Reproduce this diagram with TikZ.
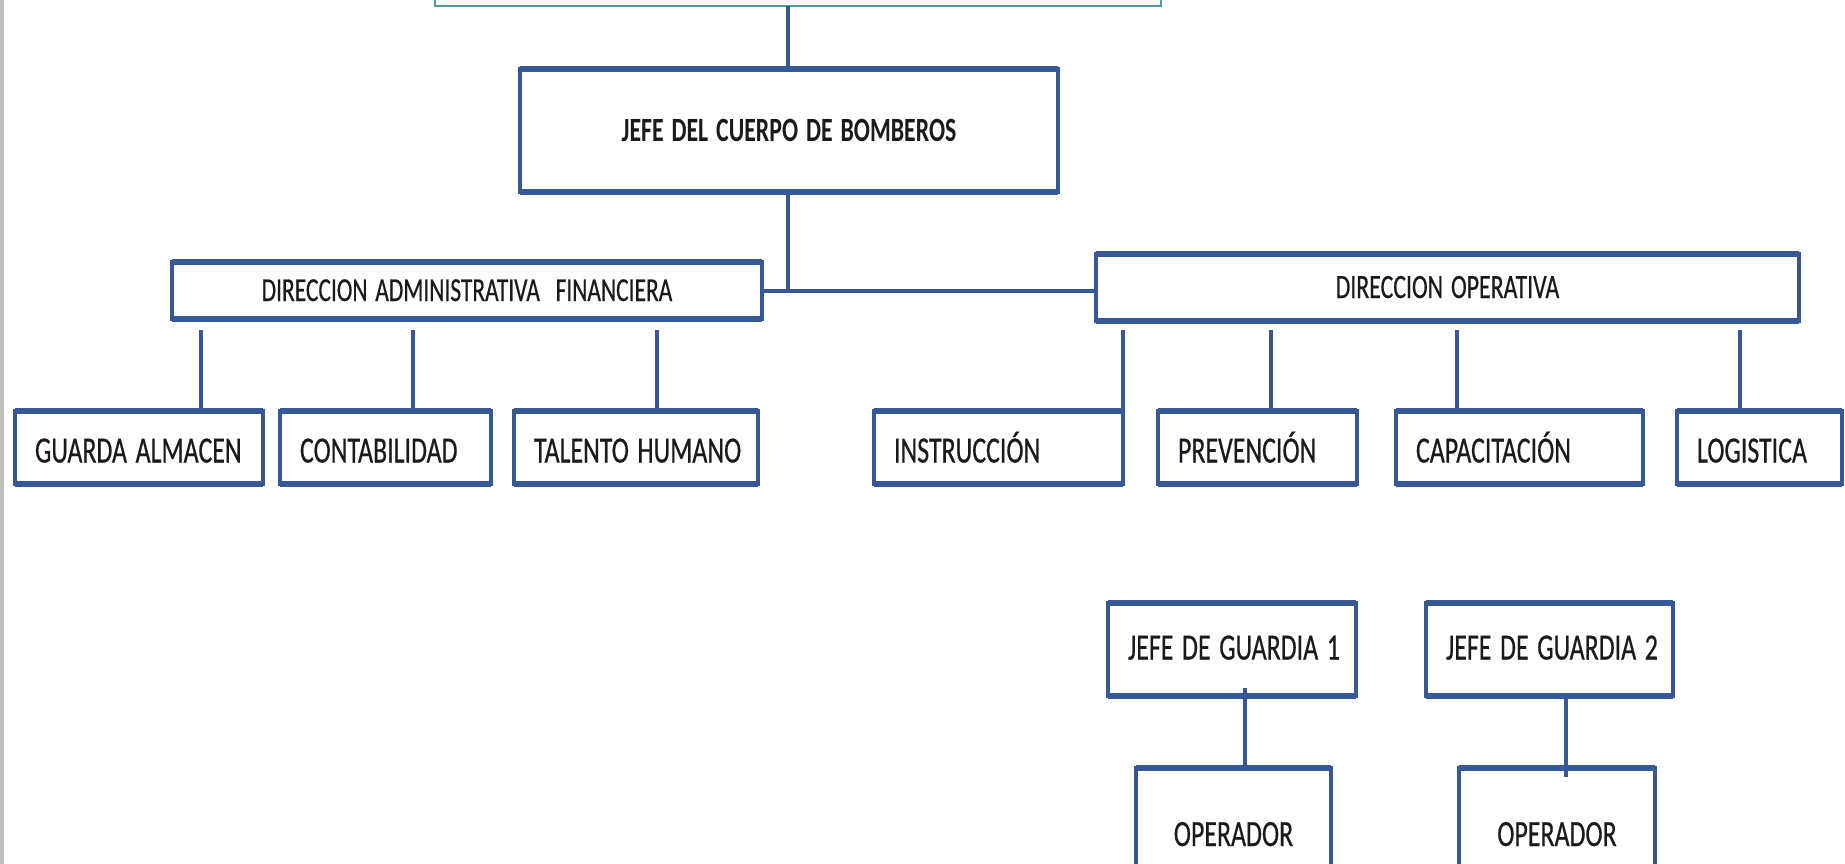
\documentclass[tikz,border=0pt]{standalone}
\usepackage{graphicx}
\usepackage{fontspec}
\setmainfont[UprightFeatures={FakeBold=0.6}]{Carlito}
\newcommand\sq[1]{\scalebox{0.7}[1]{#1}}
\definecolor{bblue}{RGB}{55,88,150}
\definecolor{teal2}{RGB}{80,155,165}
\definecolor{txt}{RGB}{25,25,30}
\tikzset{
  box/.style={draw=bblue, line width=4pt, fill=white, inner ysep=0pt, inner xsep=20pt, outer sep=0pt,
    text=txt, text depth=0pt, font=\fontsize{37}{40}\selectfont, text height=24pt, align=left},
  edge/.style={draw=bblue, line width=6.5pt, line cap=butt},
  conn/.style={draw=bblue, line width=4pt},
  topbox/.style={draw=teal2, line width=2pt, fill=white},
}
\newcommand\tbedge[1]{%
  \draw[edge] (#1.north west) -- (#1.north east);
  \draw[edge] (#1.south west) -- (#1.south east);
}
\begin{document}
\begin{tikzpicture}[x=1pt,y=-1pt]
\useasboundingbox (0,0) rectangle (1845,864);
\clip (0,0) rectangle (1845,864);
\fill[white] (0,0) rectangle (1845,864);
\fill[black!25] (0,0) rectangle (4,864);
% top box
\draw[topbox] (435,-30) rectangle (1161,6);
\coordinate (top) at (788,6);
% boxes
\node[box, minimum width=538pt, minimum height=123pt, text width=498pt, align=center,
  font=\bfseries\fontsize{34}{38}\selectfont, text height=22pt] (jefe) at (789,130.5) {\sq{JEFE DEL CUERPO DE BOMBEROS}};
\node[box, minimum width=590pt, minimum height=57pt, text width=550pt, align=center,
  font=\fontsize{33.5}{36}\selectfont, text height=21pt] (dirA) at (467,290.5) {\sq{DIRECCION ADMINISTRATIVA\ \ FINANCIERA}};
\node[box, minimum width=703pt, minimum height=67pt, text width=663pt, align=center,
  font=\fontsize{34}{36}\selectfont, text height=21pt] (dirO) at (1447.5,287.5) {\sq{DIRECCION OPERATIVA}};
\node[box, minimum width=248pt, minimum height=73pt, text width=208pt, text height=30pt] (guarda) at (139,447.5) {\sq{GUARDA ALMACEN}};
\node[box, minimum width=211pt, minimum height=73pt, text width=171pt, text height=30pt] (conta) at (385.5,447.5) {\sq{CONTABILIDAD}};
\node[box, minimum width=244pt, minimum height=73pt, text width=204pt, text height=30pt] (talento) at (636,447.5) {\sq{TALENTO HUMANO}};
\node[box, minimum width=249pt, minimum height=73pt, text width=209pt, text height=30pt] (instr) at (998.5,447.5) {\sq{INSTRUCCIÓN}};
\node[box, minimum width=199pt, minimum height=73pt, text width=159pt, text height=30pt] (prev) at (1257.5,447.5) {\sq{PREVENCIÓN}};
\node[box, minimum width=247pt, minimum height=73pt, text width=207pt, text height=30pt] (capa) at (1519.5,447.5) {\sq{CAPACITACIÓN}};
\node[box, minimum width=165pt, minimum height=73pt, text width=125pt, text height=30pt] (logi) at (1759.5,447.5) {\sq{LOGISTICA}};
\node[box, minimum width=248pt, minimum height=93pt, text width=208pt, text height=20pt] (g1) at (1232,649.5) {\sq{JEFE DE GUARDIA 1}};
\node[box, minimum width=247pt, minimum height=93pt, text width=207pt, text height=20pt] (g2) at (1549.5,649.5) {\sq{JEFE DE GUARDIA 2}};
\node[box, minimum width=195pt, minimum height=132pt, text width=155pt, align=center, text height=24pt] (op1) at (1233.5,834) {\sq{OPERADOR}};
\node[box, minimum width=196pt, minimum height=132pt, text width=156pt, align=center, text height=24pt] (op2) at (1557,834) {\sq{OPERADOR}};
\foreach \n in {jefe,dirA,dirO,guarda,conta,talento,instr,prev,capa,logi,g1,g2,op1,op2}{\tbedge{\n}}
% connectors
\coordinate (hub) at (788,290.5);
\draw[conn] (top) -- (jefe.north -| top);
\draw[conn] (jefe.south -| hub) -- (hub);
\draw[conn] (dirA.east) -- (dirA.east -| dirO.west);
\coordinate (a1) at (201,330);
\coordinate (a2) at (413,330);
\coordinate (a3) at (657,330);
\coordinate (b1) at (1123,330);
\coordinate (b2) at (1271,330);
\coordinate (b3) at (1457,330);
\coordinate (b4) at (1740,330);
\draw[conn] (a1) -- (a1 |- guarda.north);
\draw[conn] (a2) -- (a2 |- conta.north);
\draw[conn] (a3) -- (a3 |- talento.north);
\draw[conn] (b1) -- (b1 |- instr.north);
\draw[conn] (b2) -- (b2 |- prev.north);
\draw[conn] (b3) -- (b3 |- capa.north);
\draw[conn] (b4) -- (b4 |- logi.north);
\coordinate (c1) at (1245,688);
\coordinate (c2) at (1566,696);
\draw[conn] (c1) -- (c1 |- op1.north);
\draw[conn] (c2) -- ([yshift=-9pt]c2 |- op2.north);
\end{tikzpicture}
\end{document}
